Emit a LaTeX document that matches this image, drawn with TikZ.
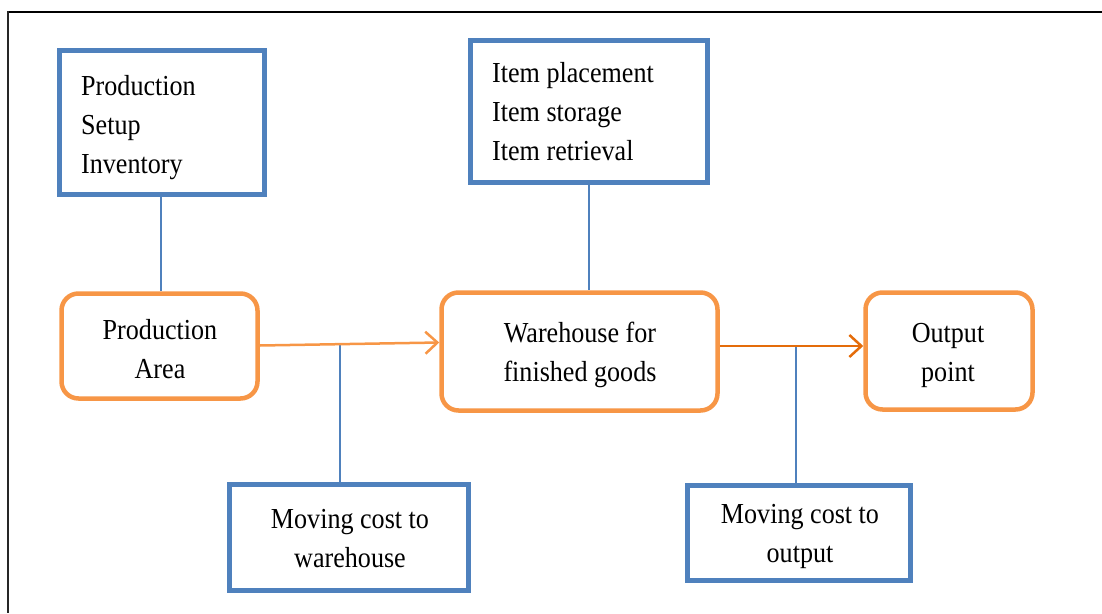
\documentclass[tikz,border=0pt]{standalone}
\usepackage{fontspec}
\setmainfont[FakeStretch=0.9]{Liberation Serif}
\usetikzlibrary{arrows.meta}
\definecolor{boxblue}{HTML}{4F81BD}
\definecolor{boxorange}{HTML}{F79646}
\definecolor{darkorange}{HTML}{E46C0A}
\tikzset{
  bluebox/.style={draw=boxblue, line width=5pt, inner sep=0pt, fill=white},
  orangebox/.style={draw=boxorange, line width=4.5pt, rounded corners=17pt, inner sep=0pt, fill=white},
  txt/.style={inner sep=0pt, font=\fontsize{29}{39}\selectfont},
  thinblue/.style={draw=boxblue, line width=1.5pt},
  flowA/.style={draw=boxorange, line width=2.5pt, -{Straight Barb[length=12pt,width=22pt,line width=2.5pt]}},
  flowB/.style={draw=darkorange, line width=2.5pt, -{Straight Barb[length=12pt,width=22pt,line width=2.5pt]}},
  frame/.style={draw=black, line cap=butt}
}
\begin{document}
\begin{tikzpicture}[x=1pt,y=-1pt]
\useasboundingbox (0,0) rectangle (1102,613);
% frame
\draw[frame, line width=2.5pt] (7,12) -- (1102,12);
\draw[frame, line width=1.5pt, draw=black!85] (8,11) -- (8,613);

% boxes
\node[bluebox, minimum width=205pt, minimum height=144pt] (b1) at (162,122.5) {};
\node[bluebox, minimum width=237pt, minimum height=142pt] (b2) at (589,111.5) {};
\node[orangebox, minimum width=196pt, minimum height=105pt] (pa) at (159.5,346) {};
\node[orangebox, minimum width=276pt, minimum height=118pt] (wh) at (579.5,351.5) {};
\node[orangebox, minimum width=167pt, minimum height=117pt] (op) at (949,351) {};
\node[bluebox, minimum width=239pt, minimum height=106pt] (mw) at (349,537.5) {};
\node[bluebox, minimum width=223pt, minimum height=95pt] (mo) at (799,533) {};

% texts
\node[txt, anchor=base west] (t1) at (81,95) {\begin{tabular}[t]{@{}l@{}}Production\\Setup\\Inventory\end{tabular}};
\node[txt, anchor=base west] (t2) at (492,82) {\begin{tabular}[t]{@{}l@{}}Item placement\\Item storage\\Item retrieval\end{tabular}};
\node[txt, anchor=base] (t3) at (160,339) {\begin{tabular}[t]{@{}c@{}}Production\\Area\end{tabular}};
\node[txt, anchor=base] (t4) at (580,342) {\begin{tabular}[t]{@{}c@{}}Warehouse for\\finished goods\end{tabular}};
\node[txt, anchor=base] (t5) at (948,342) {\begin{tabular}[t]{@{}c@{}}Output\\point\end{tabular}};
\node[txt, anchor=base] (t6) at (350,528) {\begin{tabular}[t]{@{}c@{}}Moving cost to\\warehouse\end{tabular}};
\node[txt, anchor=base] (t7) at (800,523) {\begin{tabular}[t]{@{}c@{}}Moving cost to\\output\end{tabular}};

% junction coordinates
\coordinate (j1) at (340,344.5);
\coordinate (j2) at (796,346);
\coordinate (c1) at (161,0);
\coordinate (c2) at (589,0);

% connectors
\draw[thinblue] (c1 |- b1.south) -- (c1 |- pa.north);
\draw[thinblue] (c2 |- b2.south) -- (c2 |- wh.north);
\draw[thinblue] (j1) -- (j1 |- mw.north);
\draw[thinblue] (j2) -- (j2 |- mo.north);
\draw[flowA] (pa.east |- 0,345.5) -- (wh.west |- 0,342.5);
\draw[flowB] (wh.east |- j2) -- (op.west |- j2);
\end{tikzpicture}
\end{document}
